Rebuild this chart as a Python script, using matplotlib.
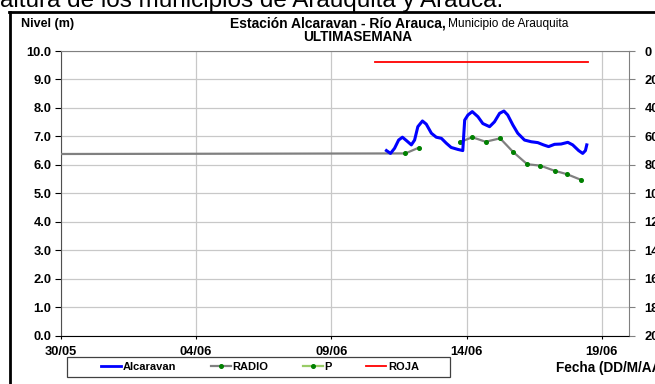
import numpy as np
import matplotlib
matplotlib.use("Agg")
import matplotlib.pyplot as plt
import matplotlib.dates as mdates
from matplotlib.lines import Line2D
from matplotlib.patches import Rectangle
from datetime import datetime

plt.rcParams["font.family"] = ["Liberation Sans", "DejaVu Sans"]

# days counted from 30/05
start = datetime(2014, 5, 30)

alcaravan_day = [12.04, 12.19, 12.34, 12.49, 12.63, 12.78, 12.96, 13.08, 13.20, 13.37,
                 13.51, 13.70, 13.88, 14.07, 14.25, 14.43, 14.68, 14.86, 14.93, 15.05,
                 15.21, 15.42, 15.60, 15.85, 16.03, 16.22, 16.38, 16.52, 16.71, 16.89,
                 17.14, 17.39, 17.63, 17.84, 18.03, 18.25, 18.49, 18.74, 18.92, 19.14,
                 19.29, 19.39, 19.44]
alcaravan_lvl = [6.50, 6.40, 6.58, 6.87, 6.97, 6.85, 6.70, 6.87, 7.34, 7.54,
                 7.43, 7.11, 6.97, 6.93, 6.76, 6.61, 6.54, 6.50, 7.57, 7.75,
                 7.87, 7.69, 7.45, 7.34, 7.51, 7.81, 7.89, 7.75, 7.40, 7.11,
                 6.87, 6.81, 6.78, 6.70, 6.64, 6.72, 6.73, 6.79, 6.70, 6.50,
                 6.40, 6.50, 6.70]

radio_day = [0.0, 12.74, 13.23, np.nan, 14.74, 15.21, 15.70, 16.24, 16.71, 17.24,
             17.73, 18.25, 18.71, 19.23]
radio_lvl = [6.38, 6.40, 6.60, np.nan, 6.79, 6.97, 6.81, 6.93, 6.46, 6.02,
             5.97, 5.79, 5.67, 5.47]

roja_day = [11.60, 19.47]
roja_lvl = [9.62, 9.62]

x_ticks = [0, 5, 10, 15, 20]
y_left = np.arange(0, 10.1, 1.0)
y_right = np.arange(0, 201, 20)


def to_dates(days):
    return mdates.date2num(start) + np.array(days, dtype=float)


W, H = 655, 384
fig = plt.figure(figsize=(W / 100, H / 100), dpi=100)

# frame and cut-off heading of the page
fig.add_artist(Line2D([9 / W, 1], [1 - 12 / H, 1 - 12 / H], color="black", lw=2.0))
fig.add_artist(Line2D([10 / W, 10 / W], [0, 1 - 12 / H], color="black", lw=2.0))
fig.text(0 / W, 1 - 7 / H, "altura de los municipios de Arauquita y Arauca.",
         fontsize=17.5, va="baseline", ha="left")

ax = fig.add_axes([60.5 / W, 1 - 335.5 / H, (629 - 60.5) / W, (335.5 - 51) / H])

ax.plot(to_dates(roja_day), roja_lvl, color="#ff0000", lw=1.3, zorder=3)
ax.plot(to_dates(radio_day), radio_lvl, color="#808080", lw=1.6, marker="o",
        markersize=2.6, markerfacecolor="#008000", markeredgecolor="#008000",
        markevery=list(range(1, len(radio_day))), zorder=3)
ax.plot(to_dates(alcaravan_day), alcaravan_lvl, color="#0000ff", lw=2.2, zorder=4,
        solid_joinstyle="round")

ax.set_xlim(to_dates([0])[0], to_dates([21])[0])
ax.set_ylim(0, 10)
ax.set_xticks(to_dates(x_ticks))
ax.xaxis.set_major_formatter(mdates.DateFormatter("%d/%m"))
ax.set_yticks(y_left)
ax.set_yticklabels([f"{v:.1f}" for v in y_left])

ax.grid(True, color="#c8c8c8", lw=0.9)
ax.set_axisbelow(True)
for s in ["top", "right"]:
    ax.spines[s].set_color("#808080")
ax.spines["left"].set_color("#505050")
ax.spines["bottom"].set_color("black")
ax.tick_params(axis="y", direction="out", length=4, pad=2.5, labelsize=9.3)
ax.tick_params(axis="x", direction="out", length=2.5, pad=5, labelsize=9.3)
for lab in ax.get_xticklabels() + ax.get_yticklabels():
    lab.set_fontweight("bold")

ax2 = ax.twinx()
ax2.set_ylim(200, 0)
ax2.set_yticks(y_right)
ax2.tick_params(axis="y", direction="out", length=4, pad=7, labelsize=9.3,
                color="#808080")
for lab in ax2.get_yticklabels():
    lab.set_fontweight("bold")
for s in ax2.spines.values():
    s.set_visible(False)

# titles
fig.text(21 / W, 1 - 24 / H, "Nivel (m)", fontsize=9, fontweight="bold",
         va="center", ha="left")
fig.text(446 / W, 1 - 24 / H, "Estación Alcaravan - Río Arauca,", fontsize=10,
         fontweight="bold", va="center", ha="right")
fig.text(448 / W, 1 - 24 / H, "Municipio de Arauquita", fontsize=8.6,
         va="center", ha="left")
fig.text(358 / W, 1 - 37 / H, "ULTIMASEMANA", fontsize=9.8, fontweight="bold",
         va="center", ha="center")
fig.text(556 / W, 1 - 368 / H, "Fecha (DD/M/AA)", fontsize=9.8, fontweight="bold",
         va="center", ha="left")

# legend: box drawn separately, entries placed inside it
fig.add_artist(Rectangle((67 / W, 1 - 377 / H), (450 - 67) / W, 20 / H,
                         transform=fig.transFigure, facecolor="white",
                         edgecolor="#404040", lw=0.9))
handles = [
    Line2D([], [], color="#0000ff", lw=2.0),
    Line2D([], [], color="#808080", lw=1.6, marker="o", markersize=2.6,
           markerfacecolor="#008000", markeredgecolor="#008000"),
    Line2D([], [], color="#99cc66", lw=1.6, marker="o", markersize=2.6,
           markerfacecolor="#008000", markeredgecolor="#008000"),
    Line2D([], [], color="#ff0000", lw=1.3),
]
leg = fig.legend(handles, ["Alcaravan", "RADIO", "P", "ROJA"], ncol=4,
                 loc="center left", bbox_to_anchor=(101 / W, 1 - 367 / H),
                 prop={"weight": "bold", "size": 8}, frameon=False,
                 handlelength=1.8, handletextpad=0.15, columnspacing=3.1,
                 borderpad=0, borderaxespad=0)

fig.savefig("out.png", dpi=100)
